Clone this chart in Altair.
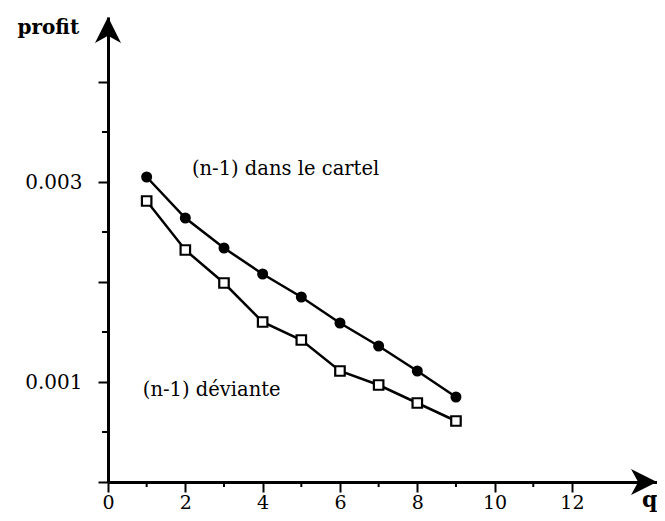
import altair as alt
import pandas as pd

# ---- data ----
q_values = [1, 2, 3, 4, 5, 6, 7, 8, 9]
profit_cartel = [0.00305, 0.00264, 0.00234, 0.00208, 0.00185, 0.00159, 0.00136, 0.00111, 0.00085]
profit_deviante = [0.00281, 0.00232, 0.00199, 0.00160, 0.00142, 0.00111, 0.00097, 0.00079, 0.00061]

x_major = [0, 2, 4, 6, 8, 10, 12]
x_minor = [1, 3, 5, 7, 9, 11]
y_major = [0, 0.001, 0.002, 0.003, 0.004]
y_minor = [0.0005, 0.0015, 0.0025, 0.0035]
y_labelled = [0.001, 0.003]

X_MAX = 14.2
Y_MAX = 0.00465

annot_text = ["(n-1) dans le cartel", "(n-1) déviante"]
annot_q = [2.17, 0.9]
annot_profit = [0.00313, 0.00092]

FONT = "DejaVu Serif"
W, H = 549, 465

# ---- tables ----
df_c = pd.DataFrame({"q": q_values, "profit": profit_cartel})
df_d = pd.DataFrame({"q": q_values, "profit": profit_deviante})
df_xminor = pd.DataFrame({"q": x_minor})
df_yminor = pd.DataFrame({"profit": y_minor})
df_xarrow = pd.DataFrame({"q": [X_MAX], "profit": [0]})
df_yarrow = pd.DataFrame({"q": [0], "profit": [Y_MAX]})
df_annot = pd.DataFrame({"q": annot_q, "profit": annot_profit, "t": annot_text})

xs = alt.Scale(domain=[0, X_MAX], nice=False, zero=False)
ys = alt.Scale(domain=[0, Y_MAX], nice=False, zero=False)

label_test = " || ".join(f"abs(datum.value - {v}) < 1e-9" for v in y_labelled)

x_axis = alt.Axis(
    values=x_major, format="d", grid=False,
    tickSize=10, tickWidth=2, tickColor="black",
    domainWidth=3, domainColor="black",
    labelFont=FONT, labelFontSize=19, labelColor="black", labelPadding=1,
    labelAngle=0, labelFlush=False, labelOverlap=False,
    title="q", titleFont=FONT, titleFontSize=22, titleFontWeight="bold",
    titleColor="black", titleX=W, titleY=24, titleAlign="right",
    titleBaseline="alphabetic", titleAngle=0,
)
y_axis = alt.Axis(
    values=y_major, grid=False,
    tickSize=10, tickWidth=2, tickColor="black",
    domainWidth=3, domainColor="black",
    labelExpr=f"({label_test}) ? format(datum.value, '.3f') : ''",
    labelFont=FONT, labelFontSize=20, labelColor="black", labelPadding=16,
    labelOverlap=False, labelFlush=False,
    title="profit", titleFont=FONT, titleFontSize=20, titleFontWeight="bold",
    titleColor="black", titleX=-91, titleY=16, titleAlign="left",
    titleBaseline="alphabetic", titleAngle=0,
)

X = alt.X("q:Q", scale=xs, axis=x_axis)
Y = alt.Y("profit:Q", scale=ys, axis=y_axis)

line_c = alt.Chart(df_c).mark_line(color="black", strokeWidth=2.5).encode(x=X, y=Y)
line_d = alt.Chart(df_d).mark_line(color="black", strokeWidth=2.5).encode(x=X, y=Y)
pts_c = alt.Chart(df_c).mark_point(
    shape="circle", filled=True, color="black", size=121, opacity=1
).encode(x=X, y=Y)
pts_d = alt.Chart(df_d).mark_point(
    shape="square", filled=False, fill="white", stroke="black",
    strokeWidth=2.2, size=90, opacity=1
).encode(x=X, y=Y)

xminor = alt.Chart(df_xminor).mark_rule(color="black", strokeWidth=2).encode(
    x=X, y=alt.value(H), y2=alt.value(H + 5)
)
yminor = alt.Chart(df_yminor).mark_rule(color="black", strokeWidth=2).encode(
    y=Y, x=alt.value(-6), x2=alt.value(0)
)

arrow_path = "M0,-1L1,1L0,0.45L-1,1Z"
xarrow = alt.Chart(df_xarrow).mark_point(
    shape=arrow_path, filled=True, color="black", size=676, angle=90,
    xOffset=-13, opacity=1
).encode(x=X, y=Y)
yarrow = alt.Chart(df_yarrow).mark_point(
    shape=arrow_path, filled=True, color="black", size=676,
    yOffset=13, opacity=1
).encode(x=X, y=Y)

annot = alt.Chart(df_annot).mark_text(
    align="left", baseline="middle", font=FONT, fontSize=19.5, color="black"
).encode(x=X, y=Y, text="t:N")

chart = alt.layer(
    line_c, line_d, pts_c, pts_d, xminor, yminor, xarrow, yarrow, annot
).properties(
    width=W, height=H,
    autosize=alt.AutoSizeParams(type="none"),
    padding={"left": 100, "top": 9, "right": 0, "bottom": 31},
    background="white",
).configure_view(stroke=None)

chart.save("out.html", embed_options={"renderer": "svg", "actions": False})
